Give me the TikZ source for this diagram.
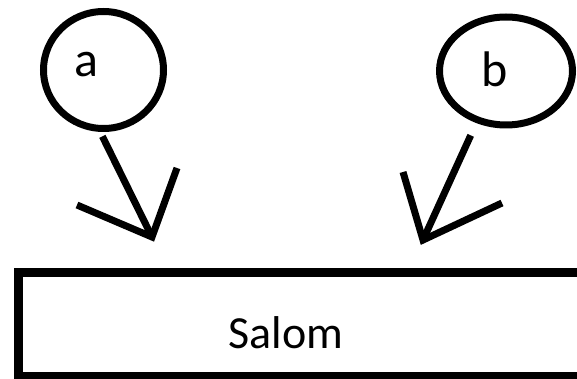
\documentclass[tikz,border=0pt]{standalone}
\usepackage{fontspec}
\setmainfont{Carlito}
\usetikzlibrary{shapes.geometric}
\begin{document}
\begin{tikzpicture}[x=1pt,y=-1pt,
  ink/.style={line width=7pt, draw=black},
  bubble/.style={ink, ellipse, inner sep=0pt, outer sep=0pt},
  letter/.style={font=\fontsize{50}{60}\selectfont, anchor=base, inner sep=0pt},
  arrowline/.style={ink, line join=miter, line cap=butt}]
\useasboundingbox (0,0) rectangle (577,379);
\clip (0,0) rectangle (577,379);
% bubbles
\node[bubble, minimum width=120pt, minimum height=117pt] (ca) at (103.5,70) {};
\node[bubble, minimum width=133pt, minimum height=108pt] (cb) at (506,71) {};
\node[letter] (ta) at (86,77) {a};
\node[letter] (tb) at (495,87) {b};
% box
\node[draw=black, line width=9pt, minimum width=622pt, minimum height=104pt, inner sep=0pt] (box) at (329,324) {};
\node[letter, font=\fontsize{46}{55}\selectfont] (lbl) at (286,348) {Salom};
% arrow a
\coordinate (tipa) at (152,237);
\coordinate (wa1) at (77,205);
\coordinate (wa2) at (177,168);
\draw[arrowline, shorten <=9pt] (ca.-95) -- (tipa);
\draw[arrowline] (wa1) -- (tipa) -- (wa2);
% arrow b
\coordinate (tipb) at (423,240);
\coordinate (wb1) at (403,172);
\coordinate (wb2) at (502,203);
\draw[arrowline, shorten <=17pt] (cb.-120) -- (tipb);
\draw[arrowline] (wb1) -- (tipb) -- (wb2);
\end{tikzpicture}
\end{document}
